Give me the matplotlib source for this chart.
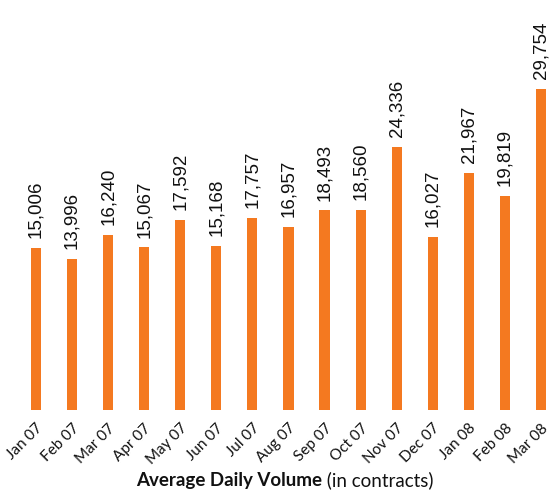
import matplotlib.pyplot as plt
import numpy as np

months = ["Jan 07", "Feb 07", "Mar 07", "Apr 07", "May 07", "Jun 07", "Jul 07",
          "Aug 07", "Sep 07", "Oct 07", "Nov 07", "Dec 07", "Jan 08", "Feb 08", "Mar 08"]
volume = [15006, 13996, 16240, 15067, 17592, 15168, 17757,
          16957, 18493, 18560, 24336, 16027, 21967, 19819, 29754]

fig = plt.figure(figsize=(5.52, 4.96), dpi=100)
ax = fig.add_axes([0, 0.1734, 1, 0.8266])

x = np.arange(len(months))
ax.bar(x, volume, width=0.28, color="#F47920")

# value labels above each bar
for xi, v in zip(x, volume):
    ax.annotate(f"{v:,}", (xi, v), xytext=(0, 7), textcoords="offset points",
                rotation=90, ha="center", va="bottom",
                fontsize=13.5, family="Liberation Sans", color="#111111")

ax.set_xlim(-0.998, 14.306)
ax.set_ylim(0, 37960)
ax.set_yticks([])
ax.set_xticks(x)
ax.set_xticklabels(months, rotation=45, ha="right", rotation_mode="anchor",
                   fontsize=11, family="Lato", color="#111111")
ax.tick_params(axis="x", length=0, pad=8)
for s in ax.spines.values():
    s.set_visible(False)

t1 = fig.text(0.246, 0.02, "Average Daily Volume", fontsize=13.5, fontweight="bold",
              family="Lato", color="#111111", va="baseline")
fig.canvas.draw()
ax.annotate(" (in contracts)", xy=(1, 0), xycoords=t1, va="bottom",
            fontsize=13.5, family="Lato", color="#111111", annotation_clip=False)

fig.savefig("out.png", dpi=100)
